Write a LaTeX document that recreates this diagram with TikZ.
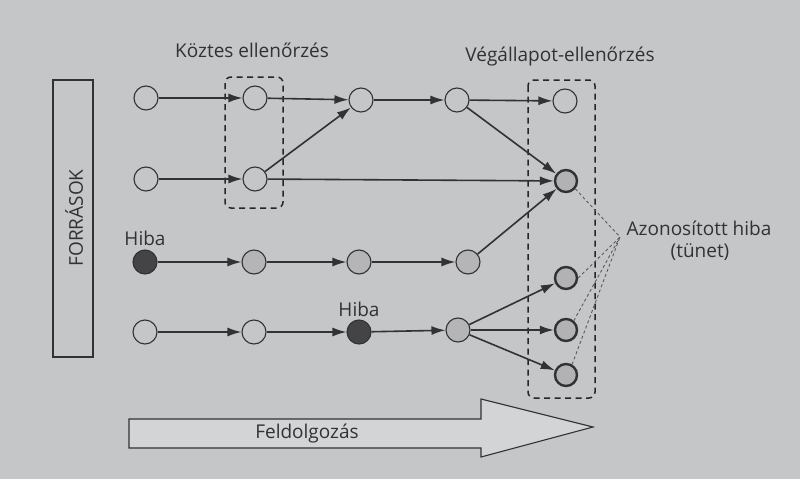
\documentclass[tikz,border=0pt]{standalone}
\usepackage{fontspec}
\setmainfont{Open Sans}
\usetikzlibrary{arrows.meta}
\definecolor{paper}{RGB}{197,198,199}
\definecolor{ink}{RGB}{50,50,52}
\definecolor{midgray}{RGB}{178,178,180}
\definecolor{darkfill}{RGB}{68,68,70}
\tikzset{
  x=1pt,y=-1pt,
  every node/.style={font=\fontsize{19}{21}\selectfont, text=ink},
  plain/.style={circle, draw=ink, line width=1.1pt, fill=paper, minimum size=24pt, inner sep=0pt},
  grayn/.style={plain, fill=midgray!85!paper},
  dark/.style={plain, fill=darkfill},
  result/.style={plain, fill=midgray, line width=2.4pt, minimum size=22pt},
  flow/.style={draw=ink, line width=1.6pt, -{Latex[length=14pt,width=9pt]}},
  group/.style={draw=black!85, line width=1.5pt, dash pattern=on 6pt off 4.5pt, rounded corners=6pt},
  hint/.style={draw=ink!80, line width=0.9pt, dash pattern=on 3pt off 2.5pt},
}
\begin{document}
\begin{tikzpicture}
\fill[paper] (0,0) rectangle (800,479);
\useasboundingbox (0,0) rectangle (800,479);

% Sources box
\draw[ink, line width=1.1pt] (53,80) rectangle (93,357);
\node[rotate=90] (src) at (74,218) {FORRÁSOK};

% group boxes
\draw[group] (225,77) rectangle (283,208);
\draw[group] (528,80) rectangle (595,398);
\node (tk) at (252,50) {Köztes ellenőrzés};
\node (tv) at (560,57) {Végállapot-ellenőrzés};

% nodes
\node[plain] (n11) at (146,98) {};
\node[plain] (n12) at (255,98) {};
\node[plain] (n13) at (361,100) {};
\node[plain] (n14) at (457,100) {};
\node[plain] (n15) at (565,101) {};

\node[plain] (n21) at (146,179) {};
\node[plain] (n22) at (255,179) {};
\node[result] (e2) at (566,181) {};

\node[dark] (n31) at (145,262) {};
\node[grayn] (n32) at (254,262) {};
\node[grayn] (n33) at (359,262) {};
\node[grayn] (n34) at (468,262) {};

\node[plain] (n41) at (145,332) {};
\node[plain] (n42) at (254,332) {};
\node[dark] (n43) at (359,332) {};
\node[grayn] (n44) at (458,330) {};

\node[result] (e3) at (566,278) {};
\node[result] (e4) at (566,330) {};
\node[result] (e5) at (566,375) {};

\node (h1) at (145,238) {Hiba};
\node (h2) at (359,309) {Hiba};

% connectors
\draw[flow] (n11) -- (n12);
\draw[flow] (n12) -- (n13);
\draw[flow] (n13) -- (n14);
\draw[flow] (n14) -- (n15);
\draw[flow] (n21) -- (n22);
\draw[flow] (n22) -- (n13);
\draw[flow] (n22) -- (e2);
\draw[flow] (n14) -- (e2);
\draw[flow] (n31) -- (n32);
\draw[flow] (n32) -- (n33);
\draw[flow] (n33) -- (n34);
\draw[flow] (n34) -- (e2);
\draw[flow] (n41) -- (n42);
\draw[flow] (n42) -- (n43);
\draw[flow] (n43) -- (n44);
\draw[flow] (n44) -- (e3);
\draw[flow] (n44) -- (e4);
\draw[flow] (n44) -- (e5);

% identified error label and hint lines
\node (az) at (699,228) {Azonosított hiba};
\node (tu) at (700,252) {(tünet)};
\coordinate (meet) at (620,237);
\draw[hint] (e2.-40) -- (meet);
\draw[hint] (e3.0) -- (meet);
\draw[hint] (e4.50) -- (meet);
\draw[hint] (e5.60) -- (meet);

% processing arrow
\draw[ink, line width=1.1pt, fill=paper!75!white]
  (129,419) -- (481,419) -- (481,399) -- (593,427) -- (481,457) -- (481,448) -- (129,448) -- cycle;
\node (proc) at (307,433) {Feldolgozás};
\end{tikzpicture}
\end{document}
